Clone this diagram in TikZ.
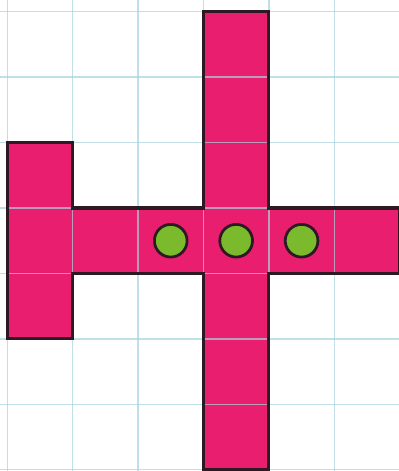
\documentclass[tikz,border=0pt]{standalone}
\usetikzlibrary{backgrounds}
\definecolor{rose}{RGB}{234,30,110}
\definecolor{vert}{RGB}{122,186,44}
\definecolor{quadrillage}{RGB}{165,212,220}
\definecolor{contour}{RGB}{45,25,35}
\begin{document}
\begin{tikzpicture}[x=1cm,y=1cm]

    % Cadre de l'image
    \useasboundingbox (-0.11,-0.02) rectangle (5.98,7.18);
    \fill[white] (-0.11,-0.02) rectangle (5.98,7.18);

    % Nombre de colonnes et de lignes
    \def\nc{6}
    \def\nl{7}

    % Remplissage de la figure en rose
    \fill[rose] (0,2) -- (1,2) -- (1,3) -- (3,3) -- (3,0) -- (4,0) -- (4,3)
        -- (6,3) -- (6,4) -- (4,4) -- (4,7) -- (3,7) -- (3,4) -- (1,4)
        -- (1,5) -- (0,5) -- cycle;

    % Quadrillage par-dessus
    \foreach \i in {0,...,\nc} {
        \draw[quadrillage, line width=0.6pt, opacity=0.7] (\i,-0.1) -- (\i,7.3);
    }
    \foreach \j in {0,...,\nl} {
        \draw[quadrillage, line width=0.6pt, opacity=0.7] (-0.2,\j) -- (6.1,\j);
    }

    % Contour de la figure
    \draw[contour, line width=1.4pt, line join=miter] (0,2) -- (1,2) -- (1,3) -- (3,3)
        -- (3,0) -- (4,0) -- (4,3) -- (6,3) -- (6,4) -- (4,4) -- (4,7) -- (3,7)
        -- (3,4) -- (1,4) -- (1,5) -- (0,5) -- cycle;

    % Les trois jetons verts
    \foreach \x in {2,3,4} {
        \filldraw[fill=vert, draw=contour, line width=1.2pt] (\x+0.5,3.5) circle (0.25);
    }

\end{tikzpicture}
\end{document}
